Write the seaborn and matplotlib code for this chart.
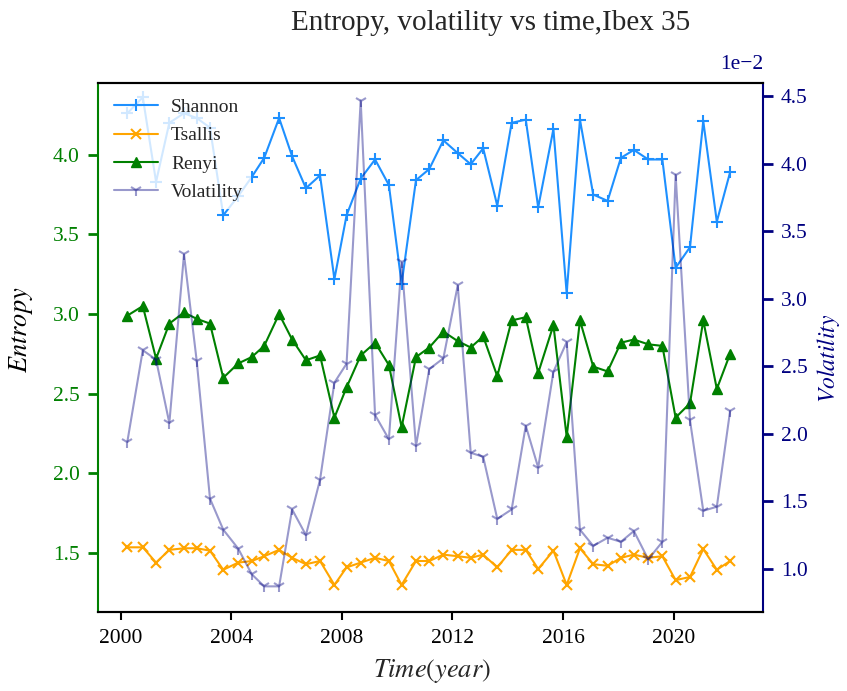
import matplotlib
matplotlib.use("Agg")
import matplotlib.pyplot as plt
import matplotlib.transforms as mtransforms
import seaborn as sns

# Half-year sampling windows (decimal years)
years = [2000.24, 2000.80, 2001.28, 2001.76, 2002.29, 2002.75, 2003.23, 2003.71,
         2004.25, 2004.74, 2005.19, 2005.73, 2006.20, 2006.70, 2007.21, 2007.73,
         2008.17, 2008.68, 2009.20, 2009.70, 2010.16, 2010.68, 2011.16, 2011.67,
         2012.19, 2012.66, 2013.11, 2013.62, 2014.14, 2014.65, 2015.10, 2015.65,
         2016.13, 2016.61, 2017.09, 2017.61, 2018.09, 2018.56, 2019.08, 2019.59,
         2020.07, 2020.59, 2021.07, 2021.56, 2022.04]

shannon = [4.26, 4.36, 3.83, 4.20, 4.26, 4.23, 4.17, 3.62, 3.74, 3.86, 3.98, 4.23,
           3.99, 3.79, 3.87, 3.22, 3.62, 3.85, 3.97, 3.81, 3.19, 3.84, 3.91, 4.09,
           4.01, 3.94, 4.04, 3.68, 4.20, 4.22, 3.67, 4.16, 3.13, 4.22, 3.75, 3.71,
           3.98, 4.03, 3.97, 3.97, 3.29, 3.42, 4.21, 3.58, 3.89]

tsallis = [1.536, 1.536, 1.44, 1.52, 1.53, 1.53, 1.515, 1.395, 1.44, 1.45, 1.48, 1.52,
           1.47, 1.43, 1.45, 1.30, 1.41, 1.44, 1.47, 1.45, 1.30, 1.45, 1.45, 1.49,
           1.48, 1.47, 1.49, 1.41, 1.52, 1.52, 1.40, 1.515, 1.30, 1.53, 1.43, 1.42,
           1.47, 1.49, 1.47, 1.48, 1.33, 1.35, 1.525, 1.395, 1.45]

renyi = [2.99, 3.05, 2.72, 2.94, 3.01, 2.97, 2.94, 2.60, 2.69, 2.73, 2.80, 3.00,
         2.84, 2.71, 2.74, 2.35, 2.54, 2.74, 2.82, 2.68, 2.29, 2.73, 2.79, 2.89,
         2.83, 2.79, 2.86, 2.61, 2.96, 2.98, 2.63, 2.93, 2.23, 2.96, 2.67, 2.64,
         2.82, 2.84, 2.81, 2.80, 2.35, 2.44, 2.96, 2.53, 2.75]

volatility = [0.0194, 0.0262, 0.0255, 0.0208, 0.0333, 0.0254, 0.0152, 0.0129,
              0.0115, 0.0096, 0.0087, 0.0087, 0.0144, 0.0125, 0.0166, 0.0238,
              0.0252, 0.0447, 0.0214, 0.0196, 0.0327, 0.0191, 0.0248, 0.0256,
              0.0310, 0.0186, 0.0183, 0.0137, 0.0144, 0.0206, 0.0175, 0.0246,
              0.0268, 0.0129, 0.0117, 0.0123, 0.0120, 0.0128, 0.0107, 0.0120,
              0.0392, 0.0210, 0.0143, 0.0146, 0.0217]

x_ticks = [2000, 2004, 2008, 2012, 2016, 2020]

sns.set_style("ticks")
plt.rcParams["font.family"] = "serif"
plt.rcParams["font.serif"] = ["Liberation Serif", "DejaVu Serif"]
plt.rcParams["mathtext.fontset"] = "stix"
plt.rcParams["axes.unicode_minus"] = True

fig = plt.figure(figsize=(8.47, 6.91), dpi=100)
ax1 = fig.add_axes([98 / 847, 1 - 612 / 691, 665 / 847, 529 / 691])
ax2 = ax1.twinx()

lw = 1.5
sns.lineplot(x=years, y=shannon, ax=ax1, color="dodgerblue", marker="+",
             markersize=9, markeredgecolor="dodgerblue", markeredgewidth=1.5,
             linewidth=lw, label="Shannon")
sns.lineplot(x=years, y=tsallis, ax=ax1, color="orange", marker="x",
             markersize=7, markeredgecolor="orange", markeredgewidth=1.5,
             linewidth=lw, label="Tsallis")
sns.lineplot(x=years, y=renyi, ax=ax1, color="green", marker="^",
             markersize=7, markeredgecolor="green", markeredgewidth=1,
             linewidth=lw, label="Renyi")
sns.lineplot(x=years, y=volatility, ax=ax2, color="navy", alpha=0.4, marker="1",
             markersize=9, markeredgecolor="navy", markeredgewidth=1.5,
             linewidth=lw, label="Volatility")

ax1.set_xlim(1999.18, 2023.23)
ax1.set_ylim(1.13, 4.45)
ax2.set_ylim(0.0068, 0.0460)
ax1.set_xticks(x_ticks)
ax1.set_yticks([1.5, 2.0, 2.5, 3.0, 3.5, 4.0])
ax2.set_yticks([0.010, 0.015, 0.020, 0.025, 0.030, 0.035, 0.040, 0.045])
ax2.ticklabel_format(axis="y", style="sci", scilimits=(0, 0))

# Spines: green on the entropy side, navy on the volatility side
for ax in (ax1, ax2):
    for side in ("top", "bottom"):
        ax.spines[side].set_color("black")
        ax.spines[side].set_linewidth(1.5)
ax1.spines["left"].set_color("green")
ax1.spines["left"].set_linewidth(1.5)
ax2.spines["left"].set_visible(False)
ax1.spines["right"].set_visible(False)
ax2.spines["right"].set_color("navy")
ax2.spines["right"].set_linewidth(1.5)

ax1.tick_params(axis="x", direction="out", length=6, width=1.5, colors="black",
                labelsize=15.5, pad=6)
ax1.tick_params(axis="y", direction="out", length=7, width=2, colors="green",
                labelcolor="green", labelsize=15.5, pad=6)
ax2.tick_params(axis="y", direction="out", length=7, width=2, colors="navy",
                labelcolor="navy", labelsize=15.5, pad=6)

# Exponent label sits a little higher above the right axis
offset_text = ax2.yaxis.get_offset_text()
offset_text.set_fontsize(15.5)
offset_text.set_color("navy")
offset_text.set_transform(offset_text.get_transform() +
                          mtransforms.ScaledTranslation(0, 0.1, fig.dpi_scale_trans))

ax1.set_xlabel("$Time(year)$", fontsize=19)
ax1.set_ylabel("$Entropy$", fontsize=19, color="black")
ax2.set_ylabel("$Volatility$", fontsize=17, color="navy")
ax1.xaxis.set_label_coords(0.502, -0.085)
ax1.yaxis.set_label_coords(-0.095, 0.533)
ax2.yaxis.set_label_coords(1.078, 0.48)

fig.text(491 / 847, 1 - 23 / 691, "Entropy, volatility vs time,Ibex 35",
         ha="center", va="center", fontsize=21)

h1, l1 = ax1.get_legend_handles_labels()
h2, l2 = ax2.get_legend_handles_labels()
if ax1.get_legend() is not None:
    ax1.get_legend().remove()
if ax2.get_legend() is not None:
    ax2.get_legend().remove()
leg = ax2.legend(h1 + h2, l1 + l2, loc="upper left", fontsize=14,
                 handlelength=2.3, handletextpad=0.65, labelspacing=0.55,
                 frameon=True, framealpha=0.8, edgecolor="none",
                 facecolor="white", borderaxespad=0.4, borderpad=0.4)

ax1.grid(False)
ax2.grid(False)

fig.savefig("out.png", dpi=100)
